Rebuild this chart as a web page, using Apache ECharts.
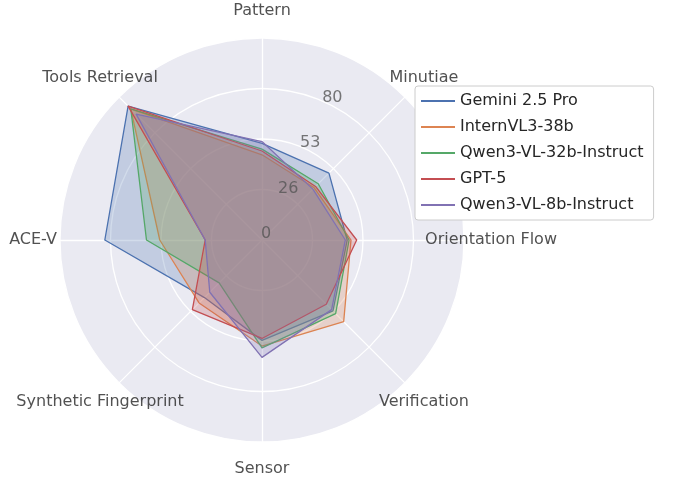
<!DOCTYPE html>
<html><head><meta charset="utf-8">
<script src="https://cdn.jsdelivr.net/npm/echarts@6/dist/echarts.min.js"></script>
<style>body{margin:0}#c{width:691px;height:486px}</style></head>
<body><div id="c"></div>
<script>
// order counterclockwise from top
const axes = ['Pattern','Tools Retrieval','ACE-V','Synthetic Fingerprint','Sensor','Verification','Orientation Flow','Minutiae'];
const tickValues = [0,26.67,53.33,80];
const tickLabels = ['0','26','53','80'];
const seriesNames = ['Gemini 2.5 Pro','InternVL3-38b','Qwen3-VL-32b-Instruct','GPT-5','Qwen3-VL-8b-Instruct'];
const gemini  = [51,100,83,43,53,53,45,50];
const internvl= [45,98,54,47,56,61,47,39];
const qwen32  = [48,98,61,32,57,55,46,42];
const gpt5    = [47,100,30,52,52,48,50,40];
const qwen8   = [52,94,30,39,62,52,44,38];
const colors = ['#4C72B0','#DD8452','#55A868','#C44E52','#8172B3'];
const vals=[gemini,internvl,qwen32,gpt5,qwen8];
const RMAX=106.67, LABEL_R=121;
const txt={fontFamily:'DejaVu Sans',fontSize:16,color:'#262626'};
const chart = echarts.init(document.getElementById('c'));
chart.setOption({
  animation:false,
  legend:{orient:'vertical',left:415,top:86,itemWidth:34,itemHeight:2,itemGap:10,
    backgroundColor:'#ffffff',borderColor:'#cccccc',borderWidth:1,borderRadius:3,padding:[7,10,7,6],
    textStyle:txt,
    data:seriesNames.map((n,i)=>({name:n,icon:'rect',itemStyle:{color:colors[i]}}))},
  polar:{center:[262,240],radius:229},
  angleAxis:{type:'value',min:0,max:360,startAngle:0,clockwise:false,show:false},
  radiusAxis:{type:'value',min:0,max:LABEL_R,show:false},
  radar:{center:[262,240],radius:202,shape:'circle',startAngle:90,splitNumber:4,z:1,
    axisName:{show:false},
    splitArea:{areaStyle:{color:['#EAEAF2']}},
    splitLine:{lineStyle:{color:'#ffffff',width:1.3}},
    axisLine:{lineStyle:{color:'#ffffff',width:1.3}},
    indicator:axes.map(a=>({name:a,min:0,max:RMAX}))},
  series:[{type:'radar',symbol:'none',z:2,
    data:vals.map((v,i)=>({name:seriesNames[i],value:v,
      lineStyle:{color:colors[i],width:1.3},itemStyle:{color:colors[i]},
      areaStyle:{color:colors[i],opacity:0.25}}))},
   {type:'scatter',coordinateSystem:'polar',symbolSize:0,z:5,silent:true,
    data:axes.map((a,i)=>({value:[LABEL_R,90+45*i],name:a})),
    label:{show:true,position:'inside',formatter:p=>p.name,...txt}},
   {type:'scatter',coordinateSystem:'polar',symbolSize:0,z:5,silent:true,
    data:tickValues.map((v,i)=>({value:[v*RMAX/106.67*229/202*202/229+v*0.0+0,64],name:tickLabels[i]})),
    label:{show:true,position:'inside',formatter:p=>p.name,fontFamily:'DejaVu Sans',fontSize:16,color:'#555',offset:[4,-6]}}]
});
</script></body></html>
